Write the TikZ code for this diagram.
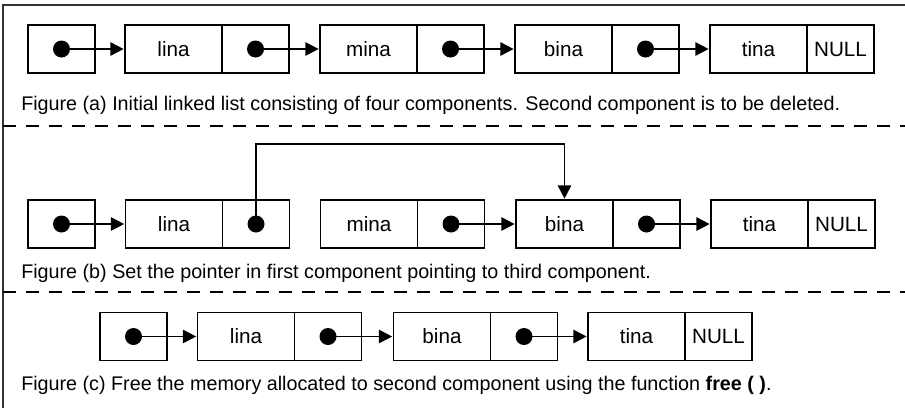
\documentclass[tikz,border=0pt]{standalone}
\usepackage{fontspec}
\setmainfont{Liberation Sans}
\usetikzlibrary{positioning,arrows.meta}

\tikzset{
  databox/.style={draw, line width=1.4pt, minimum width=72.75pt, minimum height=36pt, inner sep=0pt, outer sep=0pt, font=\fontsize{15.5}{18}\selectfont},
  ptrbox/.style={draw, line width=1.4pt, minimum width=50.25pt, minimum height=36pt, inner sep=0pt, outer sep=0pt, font=\fontsize{15.5}{18}\selectfont},
  ptrdot/.style={circle, fill=black, minimum size=12.75pt, inner sep=0pt},
  link/.style={line width=1.4pt, -{Triangle[length=10pt,width=10pt]}, shorten >=1pt},
  caption/.style={anchor=west, inner sep=0pt, font=\fontsize{14.8}{17}\selectfont},
  separator/.style={line width=1.5pt, dash pattern=on 9.75pt off 7.5pt}
}

\begin{document}
\begin{tikzpicture}[x=0.75pt,y=0.75pt,yscale=-1,xscale=1]
\useasboundingbox (0,0) rectangle (905,408);

%Frame
\draw [line width=1.4pt, color=black!80] (905,5) -- (3,5) -- (3,408);

%Figure (a): head and four components
\node [ptrbox] (ahead) at (61.5,49) {};
\node [databox] (alina) at (173.5,49) {lina};
\node [ptrbox, right=0pt of alina] (alinap) {};
\node [databox] (amina) at (368.5,49) {mina};
\node [ptrbox, right=0pt of amina] (aminap) {};
\node [databox] (abina) at (563.5,49) {bina};
\node [ptrbox, right=0pt of abina] (abinap) {};
\node [databox] (atina) at (758.5,49) {tina};
\node [ptrbox, right=0pt of atina] (anull) {NULL};
%pointers
\node [ptrdot] (adot0) at (ahead.center) {};
\node [ptrdot] (adot1) at (alinap.center) {};
\node [ptrdot] (adot2) at (aminap.center) {};
\node [ptrdot] (adot3) at (abinap.center) {};
\draw [link] (adot0.center) -- (alina.west);
\draw [link] (adot1.center) -- (amina.west);
\draw [link] (adot2.center) -- (abina.west);
\draw [link] (adot3.center) -- (atina.west);
\node [caption] (acap) at (21,105) {Figure (a) Initial linked list consisting of four components. Second component is to be deleted.};

%Separator
\draw [separator] (3,126) -- (905,126);

%Figure (b): first component points to third
\node [ptrbox] (bhead) at (61.5,224) {};
\node [databox] (blina) at (174,224) {lina};
\node [ptrbox, right=0pt of blina] (blinap) {};
\node [databox] (bmina) at (369,224) {mina};
\node [ptrbox, right=0pt of bmina] (bminap) {};
\node [databox] (bbina) at (564.5,224) {bina};
\node [ptrbox, right=0pt of bbina] (bbinap) {};
\node [databox] (btina) at (759.5,224) {tina};
\node [ptrbox, right=0pt of btina] (bnull) {NULL};
%pointers
\node [ptrdot] (bdot0) at (bhead.center) {};
\node [ptrdot] (bdot1) at (blinap.center) {};
\node [ptrdot] (bdot2) at (bminap.center) {};
\node [ptrdot] (bdot3) at (bbinap.center) {};
\draw [link] (bdot0.center) -- (blina.west);
\draw [link] (bdot1.center) -- ++(0,-80) -| (bbina.north);
\draw [link] (bdot2.center) -- (bbina.west);
\draw [link] (bdot3.center) -- (btina.west);
\node [caption] (bcap) at (21,273) {Figure (b) Set the pointer in first component pointing to third component.};

%Separator
\draw [separator] (3,292) -- (905,292);

%Figure (c): second component freed
\node [ptrbox] (chead) at (133.5,336.5) {};
\node [databox] (clina) at (246,336.5) {lina};
\node [ptrbox, right=0pt of clina] (clinap) {};
\node [databox] (cbina) at (442,336.5) {bina};
\node [ptrbox, right=0pt of cbina] (cbinap) {};
\node [databox] (ctina) at (636.5,336.5) {tina};
\node [ptrbox, right=0pt of ctina] (cnull) {NULL};
%pointers
\node [ptrdot] (cdot0) at (chead.center) {};
\node [ptrdot] (cdot1) at (clinap.center) {};
\node [ptrdot] (cdot2) at (cbinap.center) {};
\draw [link] (cdot0.center) -- (clina.west);
\draw [link] (cdot1.center) -- (cbina.west);
\draw [link] (cdot2.center) -- (ctina.west);
\node [caption] (ccap) at (21,385) {Figure (c) Free the memory allocated to second component using the function \textbf{free ( )}.};

\end{tikzpicture}
\end{document}
